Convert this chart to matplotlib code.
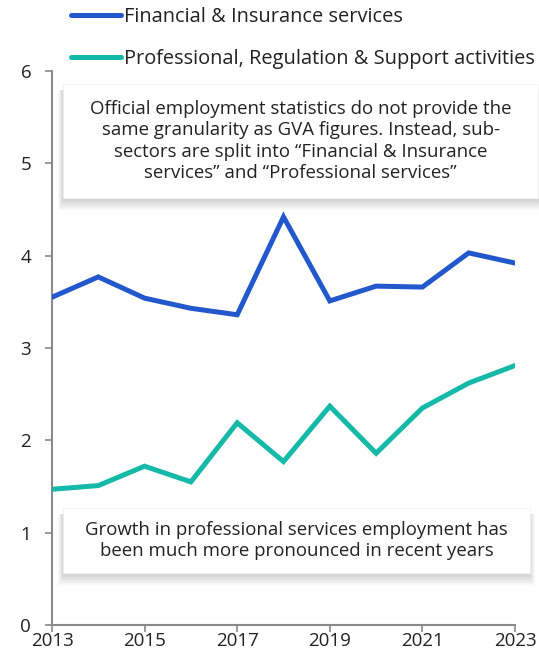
import matplotlib.pyplot as plt
from matplotlib.patches import Rectangle

plt.rcParams['font.family'] = ['Open Sans', 'DejaVu Sans']

years = [2013, 2014, 2015, 2016, 2017, 2018, 2019, 2020, 2021, 2022, 2023]
financial = [3.55, 3.77, 3.54, 3.43, 3.36, 4.42, 3.51, 3.67, 3.66, 4.03, 3.92]
professional = [1.47, 1.51, 1.72, 1.55, 2.19, 1.77, 2.37, 1.86, 2.35, 2.62, 2.81]
series_names = ['Financial & Insurance services',
                'Professional, Regulation & Support activities']
xticks = [2013, 2015, 2017, 2019, 2021, 2023]
yticks = [0, 1, 2, 3, 4, 5, 6]

note_top = ('Official employment statistics do not provide the\n'
            'same granularity as GVA figures. Instead, sub-\n'
            'sectors are split into \u201cFinancial & Insurance\n'
            'services\u201d and \u201cProfessional services\u201d')
note_bottom = ('Growth in professional services employment has\n'
               'been much more pronounced in recent years')

blue = '#2358cc'
teal = '#15b9a7'
txt = '#222222'
grey = '#8a8a8a'
W, H = 539, 656

fig = plt.figure(figsize=(5.39, 6.56), dpi=100)
ax = fig.add_axes([52 / W, 1 - 625 / H, 463 / W, 554 / H])

l1, = ax.plot(years, financial, color=blue, lw=3.6, solid_capstyle='round',
              solid_joinstyle='miter', zorder=3)
l2, = ax.plot(years, professional, color=teal, lw=3.6, solid_capstyle='round',
              solid_joinstyle='miter', zorder=3)

ax.set_xlim(2013, 2023)
ax.set_ylim(0, 6)
ax.set_xticks(xticks)
ax.set_yticks(yticks)
ax.tick_params(labelsize=13.5, colors=grey, labelcolor=txt, length=5, width=1.2)
ax.tick_params(axis='x', pad=0)
ax.tick_params(axis='y', pad=10)
for s in ['top', 'right']:
    ax.spines[s].set_visible(False)
for s in ['left', 'bottom']:
    ax.spines[s].set_color(grey)
    ax.spines[s].set_linewidth(1.5)

fig.legend([l1, l2], series_names, loc='upper left',
           bbox_to_anchor=(0.098, 1.017), frameon=False, fontsize=14.4,
           labelcolor=txt, handlelength=2.5, handletextpad=0.15,
           labelspacing=1.12)


def px_rect(x0, y0, x1, y1, **kw):
    return Rectangle((x0 / W, 1 - y1 / H), (x1 - x0) / W, (y1 - y0) / H,
                     transform=fig.transFigure, **kw)


def note_box(x0, y0, x1, y1, text):
    # soft drop shadow built from stacked translucent rectangles
    for k in range(14):
        g = 14 - k
        fig.patches.append(px_rect(x0 - g * 0.35, y0 + 6, x1 + g * 0.35,
                                   y1 + 2 + g * 0.75, facecolor='k',
                                   edgecolor='none', alpha=0.012, zorder=4))
    fig.patches.append(px_rect(x0, y0, x1, y1, facecolor='white',
                               edgecolor='#f0f0f0', lw=0.5, zorder=4))
    fig.text((x0 + x1) / 2 / W, 1 - (y0 + y1) / 2 / H, text,
             ha='center', va='center', fontsize=13.4, color=txt,
             linespacing=1.25, zorder=5)


note_box(63, 84, 538, 198, note_top)
note_box(63, 508, 530, 573, note_bottom)

fig.savefig('out.png', dpi=100)
